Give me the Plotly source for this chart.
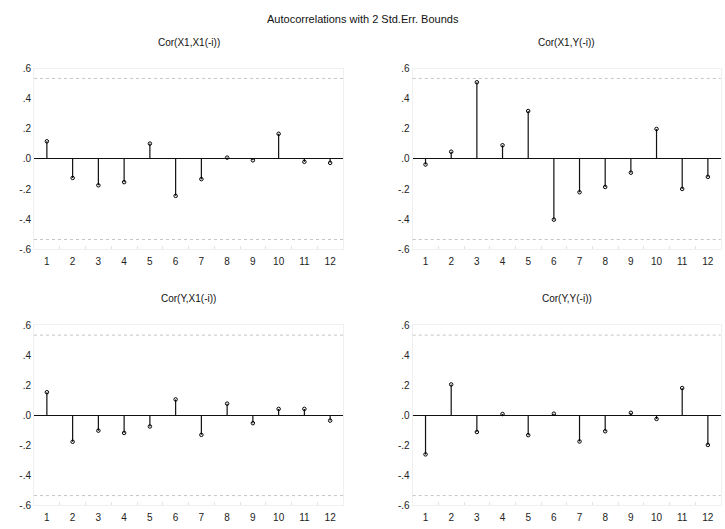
import plotly.graph_objects as go

lags = list(range(1, 13))
titles = ["Cor(X1,X1(-i))", "Cor(X1,Y(-i))", "Cor(Y,X1(-i))", "Cor(Y,Y(-i))"]
cor_x1_x1 = [0.117, -0.126, -0.175, -0.154, 0.102, -0.245, -0.134, 0.009, -0.009, 0.167, -0.019, -0.026]
cor_x1_y = [-0.037, 0.048, 0.509, 0.091, 0.318, -0.403, -0.221, -0.186, -0.091, 0.199, -0.199, -0.119]
cor_y_x1 = [0.154, -0.176, -0.102, -0.117, -0.074, 0.106, -0.130, 0.078, -0.052, 0.043, 0.043, -0.035]
cor_y_y = [-0.260, 0.206, -0.111, 0.009, -0.132, 0.011, -0.174, -0.106, 0.017, -0.024, 0.182, -0.197]
series = [cor_x1_x1, cor_x1_y, cor_y_x1, cor_y_y]
bound = 0.5345  # 2 std. err.
ytick_vals = [-0.6, -0.4, -0.2, 0.0, 0.2, 0.4, 0.6]
ytick_text = ["-.6", "-.4", "-.2", ".0", ".2", ".4", ".6"]

W, H = 725, 529
xdoms = [(34 / W, 343 / W), (412.7 / W, 720.7 / W)]
ydoms = [((H - 249) / H, (H - 64) / H), ((H - 511) / H, (H - 326.7) / H)]

fig = go.Figure()
font = "Liberation Sans, Arial, sans-serif"

for k, vals in enumerate(series):
    r, c = divmod(k, 2)
    ax = "" if k == 0 else str(k + 1)
    xa, ya = "x" + ax, "y" + ax
    sx, sy = [], []
    for lag, v in zip(lags, vals):
        sx += [lag, lag, None]
        sy += [0, v, None]
    fig.add_trace(go.Scatter(x=sx, y=sy, mode="lines", line=dict(color="#111", width=1.2),
                             xaxis=xa, yaxis=ya, showlegend=False, hoverinfo="skip"))
    fig.add_trace(go.Scatter(x=lags, y=vals, mode="markers",
                             marker=dict(symbol="circle-open", size=3.5, color="black", line=dict(width=1)),
                             xaxis=xa, yaxis=ya, showlegend=False))
    for b in (bound, -bound):
        fig.add_shape(type="line", xref=xa + " domain", yref=ya, x0=0, x1=1, y0=b, y1=b,
                      line=dict(color="#c4c4c4", width=1, dash="dot"))
    fig.layout["xaxis" + ax] = dict(
        domain=xdoms[c], anchor=ya, range=[0.5, 12.5], tickvals=lags,
        ticktext=[str(l) for l in lags], showgrid=False, zeroline=False,
        showline=True, linecolor="#f0f0f0", mirror=True, ticks="outside", ticklen=3,
        tickcolor="rgba(0,0,0,0)",
        tickfont=dict(family=font, size=10, color="#222"), fixedrange=True,
        minor=dict(tickvals=[l + 0.5 for l in lags[:-1]], ticks="inside", ticklen=3, tickcolor="#e2e2e2"),
    )
    fig.layout["yaxis" + ax] = dict(
        domain=ydoms[r], anchor=xa, range=[-0.6, 0.6], tickvals=ytick_vals, ticktext=ytick_text,
        showgrid=False, zeroline=True, zerolinecolor="#111", zerolinewidth=1.4,
        showline=True, linecolor="#f0f0f0", mirror=True, ticks="",
        tickfont=dict(family=font, size=10, color="#222"), fixedrange=True,
    )
    fig.add_annotation(text=titles[k], xref="paper", yref="paper",
                       x=(xdoms[c][0] + xdoms[c][1]) / 2, y=ydoms[r][1] + 27 / H,
                       xanchor="center", yanchor="middle", showarrow=False,
                       font=dict(family=font, size=10, color="#111"))

fig.add_annotation(text="Autocorrelations with 2 Std.Err. Bounds", xref="paper", yref="paper",
                   x=0.5, y=1 - 13 / H, xanchor="center", yanchor="middle", showarrow=False,
                   font=dict(family=font, size=11, color="#111"))

fig.update_layout(width=W, height=H, margin=dict(l=0, r=0, t=0, b=0),
                  paper_bgcolor="white", plot_bgcolor="white")
fig.write_html("out.html")
